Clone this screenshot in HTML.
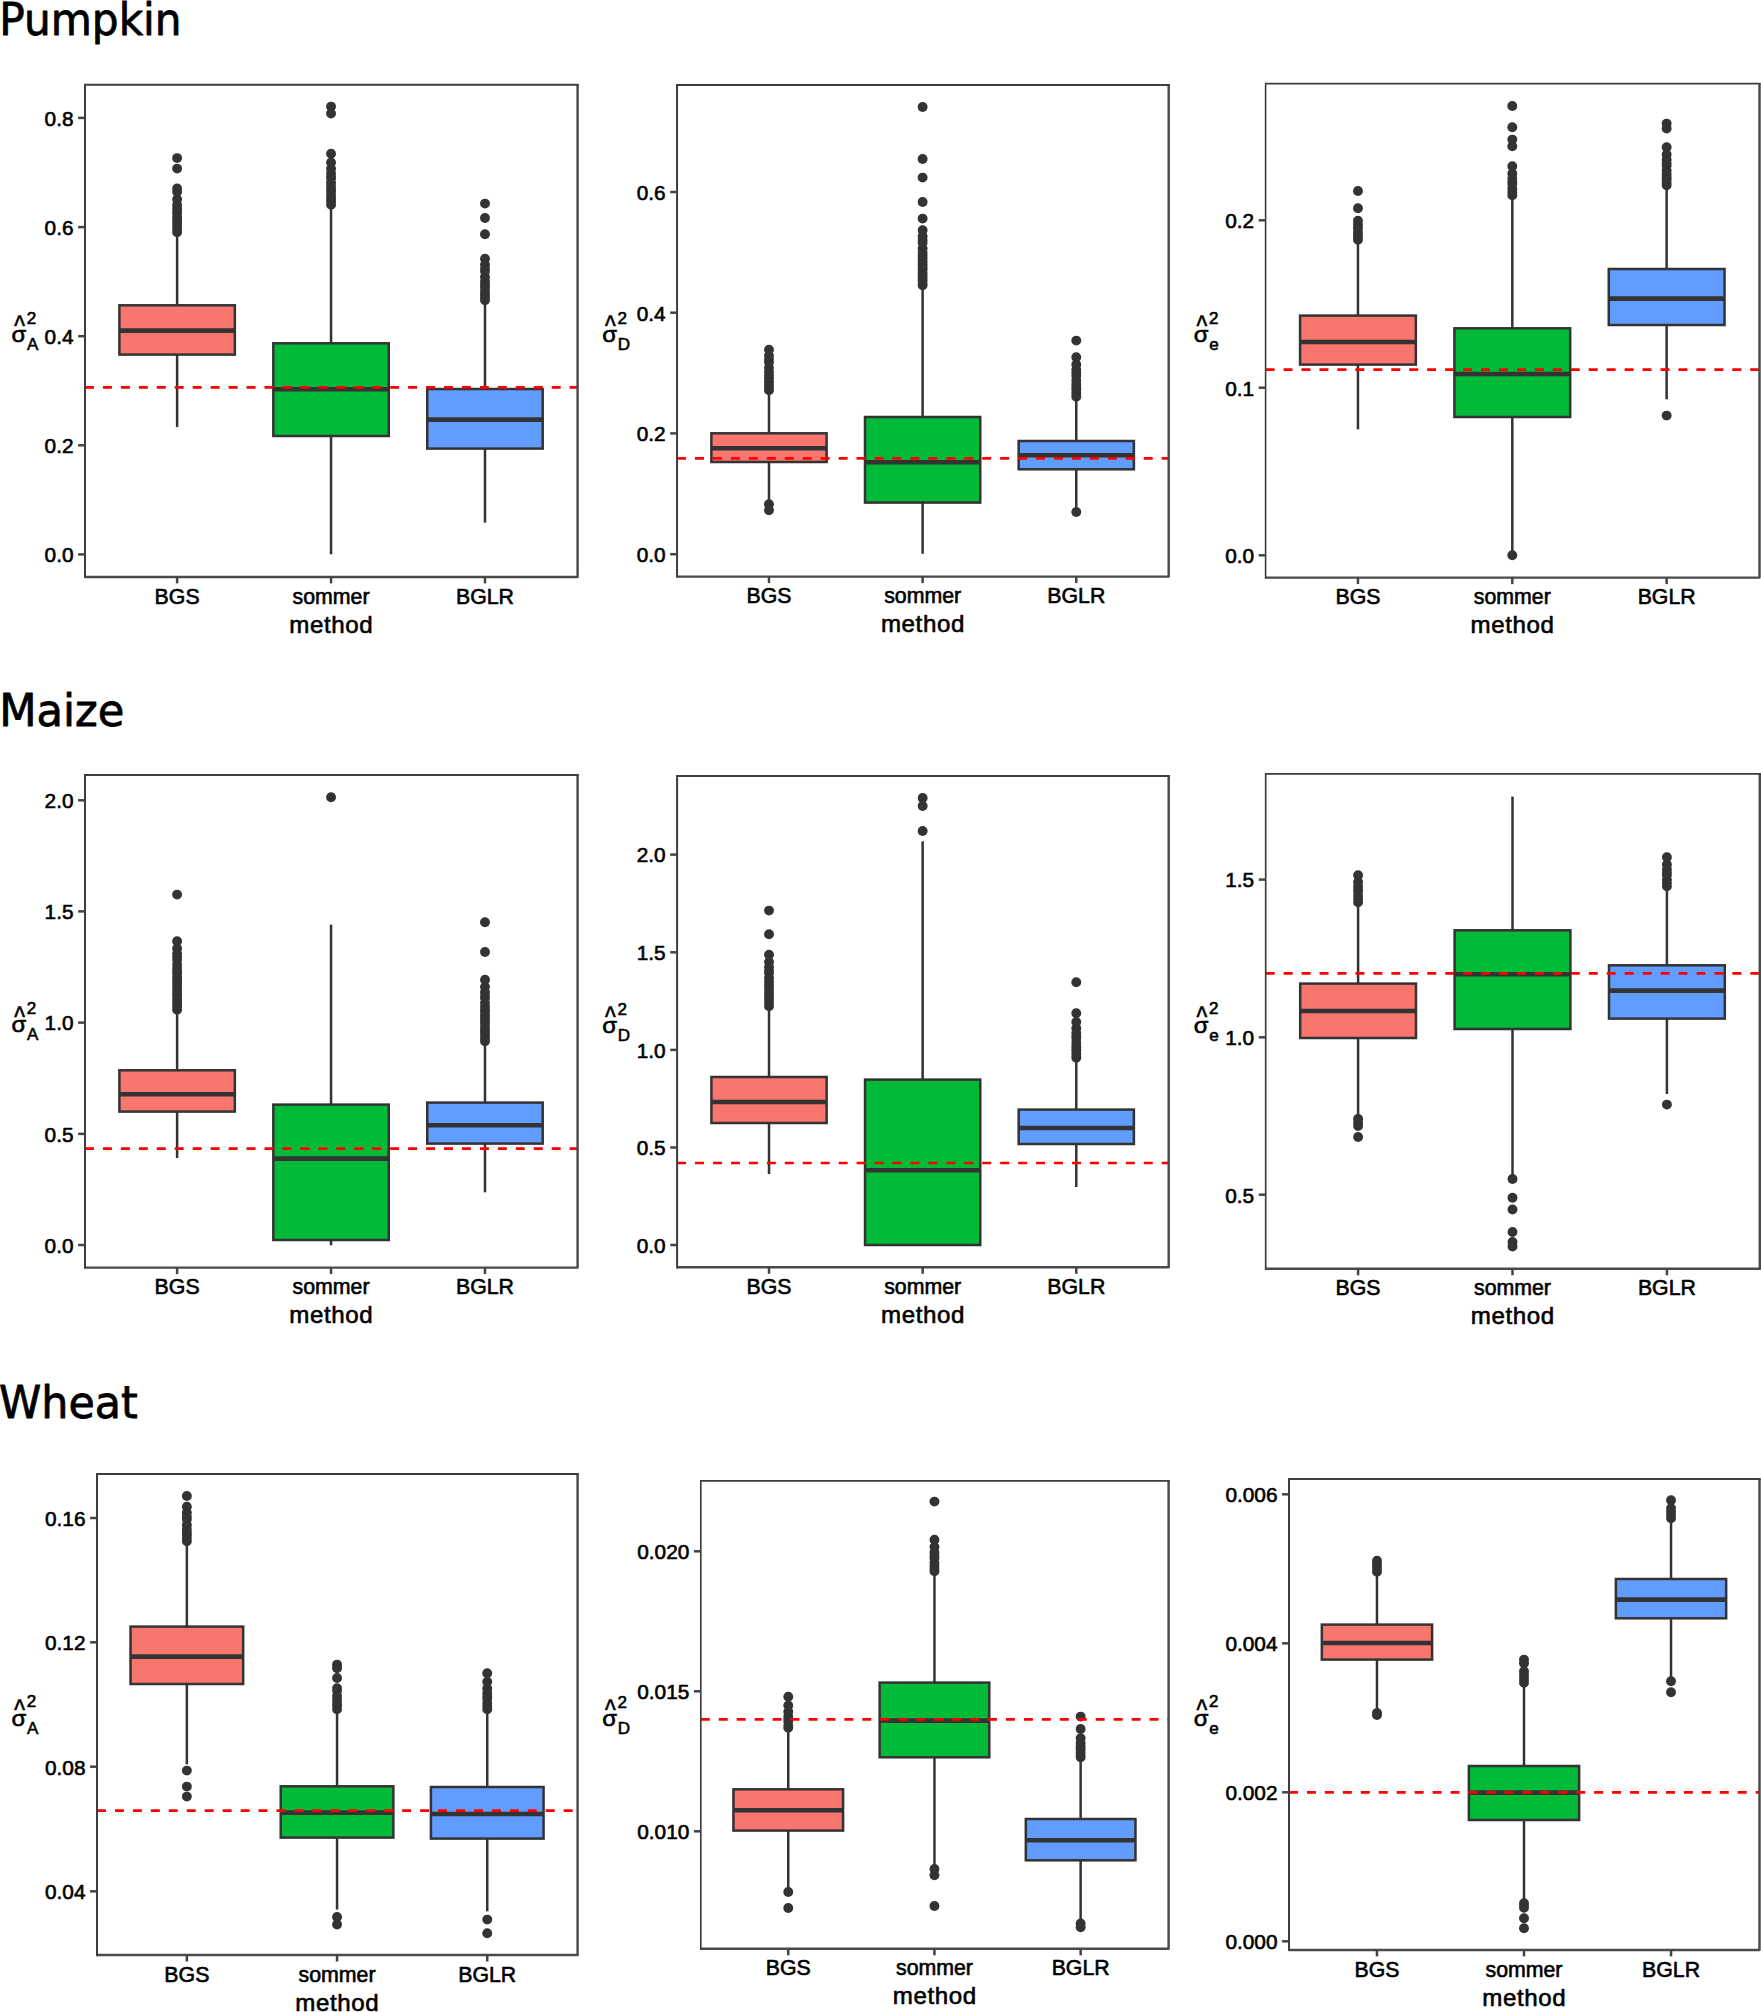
<!DOCTYPE html>
<html lang="en">
<head>
<meta charset="utf-8">
<title>Variance component estimates: Pumpkin, Maize, Wheat</title>
<style>
html,body{margin:0;padding:0;background:#fff;}
body{width:1761px;height:2012px;overflow:hidden;}
svg{display:block;}
text{white-space:pre;}
</style>
</head>
<body>
<svg width="1761" height="2012" viewBox="0 0 1761 2012" font-family="'Liberation Sans', Arial, Helvetica, sans-serif" fill="#000">
<style>text{stroke:#000;stroke-width:0.6px;stroke-linejoin:round}</style>
<rect width="1761" height="2012" fill="#fff"/>
<g>
<circle cx="177.11" cy="158.1" r="4.95" fill="#333333"/>
<circle cx="177.11" cy="168.6" r="4.95" fill="#333333"/>
<path d="M177.11 188.45h.01 M177.11 191.75h.01 M177.11 199.32h.01 M177.11 204.88h.01 M177.11 208.83h.01 M177.11 211.5h.01 M177.11 213.14h.01 M177.11 216.91h.01 M177.11 219.69h.01 M177.11 221.89h.01 M177.11 223.59h.01 M177.11 224.8h.01 M177.11 227.99h.01 M177.11 230.69h.01 M177.11 232.35h.01" fill="none" stroke="#333333" stroke-width="9.9" stroke-linecap="round"/>
<line x1="177.11" x2="177.11" y1="232.3" y2="305.3" stroke="#333333" stroke-width="2.5"/>
<line x1="177.11" x2="177.11" y1="354.6" y2="427.1" stroke="#333333" stroke-width="2.5"/>
<rect x="119.39" y="305.3" width="115.45" height="49.3" fill="#F8766D" stroke="#333333" stroke-width="2.5" stroke-linejoin="miter"/>
<line x1="119.39" x2="234.84" y1="330.6" y2="330.6" stroke="#333333" stroke-width="4.6"/>
<circle cx="331.05" cy="106.6" r="4.95" fill="#333333"/>
<circle cx="331.05" cy="113.6" r="4.95" fill="#333333"/>
<path d="M331.05 153.75h.01 M331.05 162.45h.01 M331.05 168.84h.01 M331.05 173.39h.01 M331.05 176.45h.01 M331.05 178.34h.01 M331.05 182.67h.01 M331.05 185.86h.01 M331.05 188.13h.01 M331.05 189.83h.01 M331.05 191.04h.01 M331.05 194.23h.01 M331.05 196.93h.01 M331.05 199.13h.01 M331.05 200.83h.01 M331.05 202.04h.01 M331.05 204.85h.01" fill="none" stroke="#333333" stroke-width="9.9" stroke-linecap="round"/>
<line x1="331.05" x2="331.05" y1="207.3" y2="343.3" stroke="#333333" stroke-width="2.5"/>
<line x1="331.05" x2="331.05" y1="436" y2="554.3" stroke="#333333" stroke-width="2.5"/>
<rect x="273.32" y="343.3" width="115.45" height="92.7" fill="#00BA38" stroke="#333333" stroke-width="2.5" stroke-linejoin="miter"/>
<line x1="273.32" x2="388.78" y1="389.3" y2="389.3" stroke="#333333" stroke-width="4.6"/>
<circle cx="484.99" cy="203.6" r="4.95" fill="#333333"/>
<circle cx="484.99" cy="218" r="4.95" fill="#333333"/>
<circle cx="484.99" cy="234.3" r="4.95" fill="#333333"/>
<path d="M484.99 258.75h.01 M484.99 264.75h.01 M484.99 268.8h.01 M484.99 271.29h.01 M484.99 277.02h.01 M484.99 281.23h.01 M484.99 284.22h.01 M484.99 286.24h.01 M484.99 287.48h.01 M484.99 290.67h.01 M484.99 293.37h.01 M484.99 295.57h.01 M484.99 297.27h.01 M484.99 298.48h.01 M484.99 300.35h.01" fill="none" stroke="#333333" stroke-width="9.9" stroke-linecap="round"/>
<line x1="484.99" x2="484.99" y1="300.3" y2="389" stroke="#333333" stroke-width="2.5"/>
<line x1="484.99" x2="484.99" y1="448.6" y2="522.6" stroke="#333333" stroke-width="2.5"/>
<rect x="427.26" y="389" width="115.45" height="59.6" fill="#619CFF" stroke="#333333" stroke-width="2.5" stroke-linejoin="miter"/>
<line x1="427.26" x2="542.71" y1="419.6" y2="419.6" stroke="#333333" stroke-width="4.6"/>
<line x1="85" x2="577.6" y1="387.3" y2="387.3" stroke="#FF0000" stroke-width="2.7" stroke-dasharray="8.975 8.975"/>
<path d="M577.6 84.8V576.9H85" fill="none" stroke="#4a4a4a" stroke-width="2.45" stroke-linejoin="round"/>
<path d="M85 578.1V84.8H578.8" fill="none" stroke="#3d3d3d" stroke-width="2.0" stroke-linejoin="miter"/>
<line x1="78.1" x2="85" y1="117.9" y2="117.9" stroke="#444444" stroke-width="2.5"/>
<text x="73.5" y="125.7" text-anchor="end" font-size="20.8">0.8</text>
<line x1="78.1" x2="85" y1="227.1" y2="227.1" stroke="#444444" stroke-width="2.5"/>
<text x="73.5" y="234.9" text-anchor="end" font-size="20.8">0.6</text>
<line x1="78.1" x2="85" y1="336.2" y2="336.2" stroke="#444444" stroke-width="2.5"/>
<text x="73.5" y="344" text-anchor="end" font-size="20.8">0.4</text>
<line x1="78.1" x2="85" y1="445.3" y2="445.3" stroke="#444444" stroke-width="2.5"/>
<text x="73.5" y="453.1" text-anchor="end" font-size="20.8">0.2</text>
<line x1="78.1" x2="85" y1="554.4" y2="554.4" stroke="#444444" stroke-width="2.5"/>
<text x="73.5" y="562.2" text-anchor="end" font-size="20.8">0.0</text>
<line x1="177.11" x2="177.11" y1="576.9" y2="583.4" stroke="#444444" stroke-width="2.5"/>
<text x="177.11" y="603.5" text-anchor="middle" font-size="21.3">BGS</text>
<line x1="331.05" x2="331.05" y1="576.9" y2="583.4" stroke="#444444" stroke-width="2.5"/>
<text x="331.05" y="603.5" text-anchor="middle" font-size="21.3">sommer</text>
<line x1="484.99" x2="484.99" y1="576.9" y2="583.4" stroke="#444444" stroke-width="2.5"/>
<text x="484.99" y="603.5" text-anchor="middle" font-size="21.3">BGLR</text>
<text x="331.05" y="632.5" text-anchor="middle" font-size="24.1" textLength="83.4" lengthAdjust="spacing">method</text>
<text x="11.45" y="342.05" font-size="21.8" textLength="14.7" lengthAdjust="spacingAndGlyphs">σ</text>
<text x="14.25" y="336.15" font-size="28.8" textLength="10.7" lengthAdjust="spacingAndGlyphs">^</text>
<text x="26.75" y="323.85" font-size="17.0">2</text>
<text x="27.05" y="350.05" font-size="17.0">A</text>
</g>
<g>
<circle cx="768.98" cy="504.3" r="4.95" fill="#333333"/>
<circle cx="768.98" cy="510.3" r="4.95" fill="#333333"/>
<path d="M768.98 349.75h.01 M768.98 355.75h.01 M768.98 359.8h.01 M768.98 362.29h.01 M768.98 368.02h.01 M768.98 372.23h.01 M768.98 375.22h.01 M768.98 377.24h.01 M768.98 378.48h.01 M768.98 381.67h.01 M768.98 384.37h.01 M768.98 386.57h.01 M768.98 388.27h.01 M768.98 389.48h.01 M768.98 390.35h.01" fill="none" stroke="#333333" stroke-width="9.9" stroke-linecap="round"/>
<line x1="768.98" x2="768.98" y1="390.3" y2="433.3" stroke="#333333" stroke-width="2.5"/>
<line x1="768.98" x2="768.98" y1="462" y2="503.3" stroke="#333333" stroke-width="2.5"/>
<rect x="711.37" y="433.3" width="115.23" height="28.7" fill="#F8766D" stroke="#333333" stroke-width="2.5" stroke-linejoin="miter"/>
<line x1="711.37" x2="826.6" y1="448.3" y2="448.3" stroke="#333333" stroke-width="4.6"/>
<circle cx="922.62" cy="107" r="4.95" fill="#333333"/>
<circle cx="922.62" cy="159" r="4.95" fill="#333333"/>
<circle cx="922.62" cy="177.6" r="4.95" fill="#333333"/>
<circle cx="922.62" cy="202" r="4.95" fill="#333333"/>
<circle cx="922.62" cy="218.6" r="4.95" fill="#333333"/>
<path d="M922.62 230.25h.01 M922.62 236.25h.01 M922.62 240.3h.01 M922.62 242.79h.01 M922.62 248.52h.01 M922.62 252.73h.01 M922.62 255.72h.01 M922.62 257.74h.01 M922.62 258.98h.01 M922.62 262.17h.01 M922.62 264.87h.01 M922.62 267.07h.01 M922.62 268.77h.01 M922.62 269.98h.01 M922.62 273.17h.01 M922.62 275.87h.01 M922.62 278.07h.01 M922.62 279.77h.01 M922.62 280.98h.01 M922.62 284.17h.01 M922.62 285.35h.01" fill="none" stroke="#333333" stroke-width="9.9" stroke-linecap="round"/>
<line x1="922.62" x2="922.62" y1="285.3" y2="417" stroke="#333333" stroke-width="2.5"/>
<line x1="922.62" x2="922.62" y1="502.6" y2="553.8" stroke="#333333" stroke-width="2.5"/>
<rect x="865.01" y="417" width="115.23" height="85.6" fill="#00BA38" stroke="#333333" stroke-width="2.5" stroke-linejoin="miter"/>
<line x1="865.01" x2="980.24" y1="462.3" y2="462.3" stroke="#333333" stroke-width="4.6"/>
<circle cx="1076.27" cy="340.6" r="4.95" fill="#333333"/>
<circle cx="1076.27" cy="512" r="4.95" fill="#333333"/>
<path d="M1076.27 357.25h.01 M1076.27 364.6h.01 M1076.27 369.82h.01 M1076.27 373.34h.01 M1076.27 375.51h.01 M1076.27 380.5h.01 M1076.27 384.16h.01 M1076.27 386.76h.01 M1076.27 388.52h.01 M1076.27 389.73h.01 M1076.27 392.92h.01 M1076.27 395.61h.01 M1076.27 396.85h.01" fill="none" stroke="#333333" stroke-width="9.9" stroke-linecap="round"/>
<line x1="1076.27" x2="1076.27" y1="398.3" y2="441" stroke="#333333" stroke-width="2.5"/>
<line x1="1076.27" x2="1076.27" y1="469.3" y2="507.3" stroke="#333333" stroke-width="2.5"/>
<rect x="1018.65" y="441" width="115.23" height="28.3" fill="#619CFF" stroke="#333333" stroke-width="2.5" stroke-linejoin="miter"/>
<line x1="1018.65" x2="1133.88" y1="455.3" y2="455.3" stroke="#333333" stroke-width="4.6"/>
<line x1="677.05" x2="1168.7" y1="458.3" y2="458.3" stroke="#FF0000" stroke-width="2.7" stroke-dasharray="8.975 8.975"/>
<path d="M1168.7 84.9V576.6H677.05" fill="none" stroke="#4a4a4a" stroke-width="2.45" stroke-linejoin="round"/>
<path d="M677.05 577.8V84.9H1169.9" fill="none" stroke="#3d3d3d" stroke-width="2.0" stroke-linejoin="miter"/>
<line x1="670.15" x2="677.05" y1="192" y2="192" stroke="#444444" stroke-width="2.5"/>
<text x="665.55" y="199.8" text-anchor="end" font-size="20.8">0.6</text>
<line x1="670.15" x2="677.05" y1="312.7" y2="312.7" stroke="#444444" stroke-width="2.5"/>
<text x="665.55" y="320.5" text-anchor="end" font-size="20.8">0.4</text>
<line x1="670.15" x2="677.05" y1="433.4" y2="433.4" stroke="#444444" stroke-width="2.5"/>
<text x="665.55" y="441.2" text-anchor="end" font-size="20.8">0.2</text>
<line x1="670.15" x2="677.05" y1="554.2" y2="554.2" stroke="#444444" stroke-width="2.5"/>
<text x="665.55" y="562" text-anchor="end" font-size="20.8">0.0</text>
<line x1="768.98" x2="768.98" y1="576.6" y2="583.1" stroke="#444444" stroke-width="2.5"/>
<text x="768.98" y="603.2" text-anchor="middle" font-size="21.3">BGS</text>
<line x1="922.62" x2="922.62" y1="576.6" y2="583.1" stroke="#444444" stroke-width="2.5"/>
<text x="922.62" y="603.2" text-anchor="middle" font-size="21.3">sommer</text>
<line x1="1076.27" x2="1076.27" y1="576.6" y2="583.1" stroke="#444444" stroke-width="2.5"/>
<text x="1076.27" y="603.2" text-anchor="middle" font-size="21.3">BGLR</text>
<text x="922.62" y="632.2" text-anchor="middle" font-size="24.1" textLength="83.4" lengthAdjust="spacing">method</text>
<text x="602.2" y="341.95" font-size="21.8" textLength="14.7" lengthAdjust="spacingAndGlyphs">σ</text>
<text x="605" y="336.05" font-size="28.8" textLength="10.7" lengthAdjust="spacingAndGlyphs">^</text>
<text x="617.5" y="323.75" font-size="17.0">2</text>
<text x="617.8" y="349.95" font-size="17.0">D</text>
</g>
<g>
<circle cx="1357.96" cy="191" r="4.95" fill="#333333"/>
<circle cx="1357.96" cy="208.3" r="4.95" fill="#333333"/>
<path d="M1357.96 220.75h.01 M1357.96 224.57h.01 M1357.96 227.15h.01 M1357.96 228.74h.01 M1357.96 232.38h.01 M1357.96 235.08h.01 M1357.96 237.28h.01 M1357.96 238.98h.01 M1357.96 239.85h.01" fill="none" stroke="#333333" stroke-width="9.9" stroke-linecap="round"/>
<line x1="1357.96" x2="1357.96" y1="240.3" y2="315.6" stroke="#333333" stroke-width="2.5"/>
<line x1="1357.96" x2="1357.96" y1="364.6" y2="429.3" stroke="#333333" stroke-width="2.5"/>
<rect x="1300.08" y="315.6" width="115.76" height="49" fill="#F8766D" stroke="#333333" stroke-width="2.5" stroke-linejoin="miter"/>
<line x1="1300.08" x2="1415.84" y1="342" y2="342" stroke="#333333" stroke-width="4.6"/>
<circle cx="1512.3" cy="106" r="4.95" fill="#333333"/>
<circle cx="1512.3" cy="127.3" r="4.95" fill="#333333"/>
<circle cx="1512.3" cy="139.6" r="4.95" fill="#333333"/>
<circle cx="1512.3" cy="146.3" r="4.95" fill="#333333"/>
<circle cx="1512.3" cy="555.3" r="4.95" fill="#333333"/>
<path d="M1512.3 166.25h.01 M1512.3 173.38h.01 M1512.3 178.44h.01 M1512.3 181.86h.01 M1512.3 183.96h.01 M1512.3 188.8h.01 M1512.3 192.35h.01 M1512.3 195.35h.01" fill="none" stroke="#333333" stroke-width="9.9" stroke-linecap="round"/>
<line x1="1512.3" x2="1512.3" y1="196.3" y2="328.3" stroke="#333333" stroke-width="2.5"/>
<line x1="1512.3" x2="1512.3" y1="417" y2="553.3" stroke="#333333" stroke-width="2.5"/>
<rect x="1454.42" y="328.3" width="115.76" height="88.7" fill="#00BA38" stroke="#333333" stroke-width="2.5" stroke-linejoin="miter"/>
<line x1="1454.42" x2="1570.18" y1="374" y2="374" stroke="#333333" stroke-width="4.6"/>
<circle cx="1666.64" cy="123.6" r="4.95" fill="#333333"/>
<circle cx="1666.64" cy="128.6" r="4.95" fill="#333333"/>
<circle cx="1666.64" cy="415.6" r="4.95" fill="#333333"/>
<path d="M1666.64 147.25h.01 M1666.64 154.6h.01 M1666.64 159.82h.01 M1666.64 163.34h.01 M1666.64 165.51h.01 M1666.64 170.5h.01 M1666.64 174.16h.01 M1666.64 176.76h.01 M1666.64 178.52h.01 M1666.64 179.73h.01 M1666.64 182.92h.01 M1666.64 185.35h.01" fill="none" stroke="#333333" stroke-width="9.9" stroke-linecap="round"/>
<line x1="1666.64" x2="1666.64" y1="186.3" y2="269" stroke="#333333" stroke-width="2.5"/>
<line x1="1666.64" x2="1666.64" y1="325" y2="399.3" stroke="#333333" stroke-width="2.5"/>
<rect x="1608.76" y="269" width="115.76" height="56" fill="#619CFF" stroke="#333333" stroke-width="2.5" stroke-linejoin="miter"/>
<line x1="1608.76" x2="1724.52" y1="298.6" y2="298.6" stroke="#333333" stroke-width="4.6"/>
<line x1="1265.6" x2="1759.5" y1="369.6" y2="369.6" stroke="#FF0000" stroke-width="2.7" stroke-dasharray="8.975 8.975"/>
<path d="M1759.5 83.6V577.6H1265.6" fill="none" stroke="#4a4a4a" stroke-width="2.45" stroke-linejoin="round"/>
<path d="M1265.6 578.8V83.6H1760.7" fill="none" stroke="#3d3d3d" stroke-width="1.6" stroke-linejoin="miter"/>
<line x1="1258.7" x2="1265.6" y1="220.3" y2="220.3" stroke="#444444" stroke-width="2.5"/>
<text x="1254.1" y="228.1" text-anchor="end" font-size="20.8">0.2</text>
<line x1="1258.7" x2="1265.6" y1="387.7" y2="387.7" stroke="#444444" stroke-width="2.5"/>
<text x="1254.1" y="395.5" text-anchor="end" font-size="20.8">0.1</text>
<line x1="1258.7" x2="1265.6" y1="555.3" y2="555.3" stroke="#444444" stroke-width="2.5"/>
<text x="1254.1" y="563.1" text-anchor="end" font-size="20.8">0.0</text>
<line x1="1357.96" x2="1357.96" y1="577.6" y2="584.1" stroke="#444444" stroke-width="2.5"/>
<text x="1357.96" y="604.2" text-anchor="middle" font-size="21.3">BGS</text>
<line x1="1512.3" x2="1512.3" y1="577.6" y2="584.1" stroke="#444444" stroke-width="2.5"/>
<text x="1512.3" y="604.2" text-anchor="middle" font-size="21.3">sommer</text>
<line x1="1666.64" x2="1666.64" y1="577.6" y2="584.1" stroke="#444444" stroke-width="2.5"/>
<text x="1666.64" y="604.2" text-anchor="middle" font-size="21.3">BGLR</text>
<text x="1512.3" y="633.2" text-anchor="middle" font-size="24.1" textLength="83.4" lengthAdjust="spacing">method</text>
<text x="1193.7" y="341.8" font-size="21.8" textLength="14.7" lengthAdjust="spacingAndGlyphs">σ</text>
<text x="1196.5" y="335.9" font-size="28.8" textLength="10.7" lengthAdjust="spacingAndGlyphs">^</text>
<text x="1209" y="323.6" font-size="17.0">2</text>
<text x="1209.3" y="349.8" font-size="17.0">e</text>
</g>
<g>
<circle cx="177.11" cy="894.6" r="4.95" fill="#333333"/>
<path d="M177.11 941.25h.01 M177.11 948.6h.01 M177.11 953.82h.01 M177.11 957.34h.01 M177.11 959.51h.01 M177.11 964.5h.01 M177.11 968.16h.01 M177.11 970.76h.01 M177.11 972.52h.01 M177.11 973.73h.01 M177.11 976.92h.01 M177.11 979.61h.01 M177.11 981.81h.01 M177.11 983.52h.01 M177.11 984.73h.01 M177.11 987.92h.01 M177.11 990.61h.01 M177.11 992.81h.01 M177.11 994.52h.01 M177.11 995.73h.01 M177.11 998.92h.01 M177.11 1001.61h.01 M177.11 1003.81h.01 M177.11 1005.52h.01 M177.11 1006.73h.01 M177.11 1009.85h.01" fill="none" stroke="#333333" stroke-width="9.9" stroke-linecap="round"/>
<line x1="177.11" x2="177.11" y1="1010.3" y2="1070.3" stroke="#333333" stroke-width="2.5"/>
<line x1="177.11" x2="177.11" y1="1111.6" y2="1158" stroke="#333333" stroke-width="2.5"/>
<rect x="119.39" y="1070.3" width="115.45" height="41.3" fill="#F8766D" stroke="#333333" stroke-width="2.5" stroke-linejoin="miter"/>
<line x1="119.39" x2="234.84" y1="1094.3" y2="1094.3" stroke="#333333" stroke-width="4.6"/>
<circle cx="331.05" cy="797.3" r="4.95" fill="#333333"/>
<line x1="331.05" x2="331.05" y1="924.6" y2="1104.6" stroke="#333333" stroke-width="2.5"/>
<line x1="331.05" x2="331.05" y1="1240" y2="1245.3" stroke="#333333" stroke-width="2.5"/>
<rect x="273.32" y="1104.6" width="115.45" height="135.4" fill="#00BA38" stroke="#333333" stroke-width="2.5" stroke-linejoin="miter"/>
<line x1="273.32" x2="388.78" y1="1158.6" y2="1158.6" stroke="#333333" stroke-width="4.6"/>
<circle cx="484.99" cy="922.3" r="4.95" fill="#333333"/>
<circle cx="484.99" cy="952" r="4.95" fill="#333333"/>
<path d="M484.99 979.75h.01 M484.99 987.1h.01 M484.99 992.32h.01 M484.99 995.84h.01 M484.99 998.01h.01 M484.99 1003h.01 M484.99 1006.66h.01 M484.99 1009.26h.01 M484.99 1011.02h.01 M484.99 1012.23h.01 M484.99 1015.42h.01 M484.99 1018.11h.01 M484.99 1020.31h.01 M484.99 1022.02h.01 M484.99 1023.23h.01 M484.99 1026.42h.01 M484.99 1029.11h.01 M484.99 1031.31h.01 M484.99 1033.02h.01 M484.99 1034.23h.01 M484.99 1037.42h.01 M484.99 1040.11h.01 M484.99 1041.35h.01" fill="none" stroke="#333333" stroke-width="9.9" stroke-linecap="round"/>
<line x1="484.99" x2="484.99" y1="1042.3" y2="1102.6" stroke="#333333" stroke-width="2.5"/>
<line x1="484.99" x2="484.99" y1="1143.6" y2="1192.3" stroke="#333333" stroke-width="2.5"/>
<rect x="427.26" y="1102.6" width="115.45" height="41" fill="#619CFF" stroke="#333333" stroke-width="2.5" stroke-linejoin="miter"/>
<line x1="427.26" x2="542.71" y1="1125.3" y2="1125.3" stroke="#333333" stroke-width="4.6"/>
<line x1="85" x2="577.6" y1="1148.6" y2="1148.6" stroke="#FF0000" stroke-width="2.7" stroke-dasharray="8.975 8.975"/>
<path d="M577.6 774.9V1267.6H85" fill="none" stroke="#4a4a4a" stroke-width="2.45" stroke-linejoin="round"/>
<path d="M85 1268.8V774.9H578.8" fill="none" stroke="#3d3d3d" stroke-width="2.0" stroke-linejoin="miter"/>
<line x1="78.1" x2="85" y1="800.3" y2="800.3" stroke="#444444" stroke-width="2.5"/>
<text x="73.5" y="808.1" text-anchor="end" font-size="20.8">2.0</text>
<line x1="78.1" x2="85" y1="911.4" y2="911.4" stroke="#444444" stroke-width="2.5"/>
<text x="73.5" y="919.2" text-anchor="end" font-size="20.8">1.5</text>
<line x1="78.1" x2="85" y1="1022.6" y2="1022.6" stroke="#444444" stroke-width="2.5"/>
<text x="73.5" y="1030.4" text-anchor="end" font-size="20.8">1.0</text>
<line x1="78.1" x2="85" y1="1133.9" y2="1133.9" stroke="#444444" stroke-width="2.5"/>
<text x="73.5" y="1141.7" text-anchor="end" font-size="20.8">0.5</text>
<line x1="78.1" x2="85" y1="1245" y2="1245" stroke="#444444" stroke-width="2.5"/>
<text x="73.5" y="1252.8" text-anchor="end" font-size="20.8">0.0</text>
<line x1="177.11" x2="177.11" y1="1267.6" y2="1274.1" stroke="#444444" stroke-width="2.5"/>
<text x="177.11" y="1294.2" text-anchor="middle" font-size="21.3">BGS</text>
<line x1="331.05" x2="331.05" y1="1267.6" y2="1274.1" stroke="#444444" stroke-width="2.5"/>
<text x="331.05" y="1294.2" text-anchor="middle" font-size="21.3">sommer</text>
<line x1="484.99" x2="484.99" y1="1267.6" y2="1274.1" stroke="#444444" stroke-width="2.5"/>
<text x="484.99" y="1294.2" text-anchor="middle" font-size="21.3">BGLR</text>
<text x="331.05" y="1323.2" text-anchor="middle" font-size="24.1" textLength="83.4" lengthAdjust="spacing">method</text>
<text x="11.45" y="1032.45" font-size="21.8" textLength="14.7" lengthAdjust="spacingAndGlyphs">σ</text>
<text x="14.25" y="1026.55" font-size="28.8" textLength="10.7" lengthAdjust="spacingAndGlyphs">^</text>
<text x="26.75" y="1014.25" font-size="17.0">2</text>
<text x="27.05" y="1040.45" font-size="17.0">A</text>
</g>
<g>
<circle cx="769.02" cy="910.6" r="4.95" fill="#333333"/>
<circle cx="769.02" cy="934.3" r="4.95" fill="#333333"/>
<path d="M769.02 954.75h.01 M769.02 962.1h.01 M769.02 967.32h.01 M769.02 970.84h.01 M769.02 973.01h.01 M769.02 978h.01 M769.02 981.66h.01 M769.02 984.26h.01 M769.02 986.02h.01 M769.02 987.23h.01 M769.02 990.42h.01 M769.02 993.11h.01 M769.02 995.31h.01 M769.02 997.02h.01 M769.02 998.23h.01 M769.02 1001.42h.01 M769.02 1004.11h.01 M769.02 1006.35h.01" fill="none" stroke="#333333" stroke-width="9.9" stroke-linecap="round"/>
<line x1="769.02" x2="769.02" y1="1005.3" y2="1077" stroke="#333333" stroke-width="2.5"/>
<line x1="769.02" x2="769.02" y1="1123" y2="1174" stroke="#333333" stroke-width="2.5"/>
<rect x="711.42" y="1077" width="115.22" height="46" fill="#F8766D" stroke="#333333" stroke-width="2.5" stroke-linejoin="miter"/>
<line x1="711.42" x2="826.63" y1="1102" y2="1102" stroke="#333333" stroke-width="4.6"/>
<circle cx="922.65" cy="798" r="4.95" fill="#333333"/>
<circle cx="922.65" cy="806" r="4.95" fill="#333333"/>
<circle cx="922.65" cy="831" r="4.95" fill="#333333"/>
<line x1="922.65" x2="922.65" y1="841.3" y2="1079.6" stroke="#333333" stroke-width="2.5"/>
<rect x="865.04" y="1079.6" width="115.22" height="165.4" fill="#00BA38" stroke="#333333" stroke-width="2.5" stroke-linejoin="miter"/>
<line x1="865.04" x2="980.26" y1="1170.3" y2="1170.3" stroke="#333333" stroke-width="4.6"/>
<circle cx="1076.28" cy="982.3" r="4.95" fill="#333333"/>
<path d="M1076.28 1013.25h.01 M1076.28 1021.95h.01 M1076.28 1028.34h.01 M1076.28 1032.89h.01 M1076.28 1035.95h.01 M1076.28 1037.84h.01 M1076.28 1042.17h.01 M1076.28 1045.36h.01 M1076.28 1047.63h.01 M1076.28 1049.33h.01 M1076.28 1050.54h.01 M1076.28 1053.73h.01 M1076.28 1056.43h.01 M1076.28 1057.85h.01" fill="none" stroke="#333333" stroke-width="9.9" stroke-linecap="round"/>
<line x1="1076.28" x2="1076.28" y1="1057.3" y2="1109.6" stroke="#333333" stroke-width="2.5"/>
<line x1="1076.28" x2="1076.28" y1="1144" y2="1187" stroke="#333333" stroke-width="2.5"/>
<rect x="1018.67" y="1109.6" width="115.22" height="34.4" fill="#619CFF" stroke="#333333" stroke-width="2.5" stroke-linejoin="miter"/>
<line x1="1018.67" x2="1133.88" y1="1128" y2="1128" stroke="#333333" stroke-width="4.6"/>
<line x1="677.1" x2="1168.7" y1="1163" y2="1163" stroke="#FF0000" stroke-width="2.7" stroke-dasharray="8.975 8.975"/>
<path d="M1168.7 775.9V1267.3H677.1" fill="none" stroke="#4a4a4a" stroke-width="2.45" stroke-linejoin="round"/>
<path d="M677.1 1268.5V775.9H1169.9" fill="none" stroke="#3d3d3d" stroke-width="2.0" stroke-linejoin="miter"/>
<line x1="670.2" x2="677.1" y1="854.6" y2="854.6" stroke="#444444" stroke-width="2.5"/>
<text x="665.6" y="862.4" text-anchor="end" font-size="20.8">2.0</text>
<line x1="670.2" x2="677.1" y1="952.3" y2="952.3" stroke="#444444" stroke-width="2.5"/>
<text x="665.6" y="960.1" text-anchor="end" font-size="20.8">1.5</text>
<line x1="670.2" x2="677.1" y1="1049.9" y2="1049.9" stroke="#444444" stroke-width="2.5"/>
<text x="665.6" y="1057.7" text-anchor="end" font-size="20.8">1.0</text>
<line x1="670.2" x2="677.1" y1="1147.5" y2="1147.5" stroke="#444444" stroke-width="2.5"/>
<text x="665.6" y="1155.3" text-anchor="end" font-size="20.8">0.5</text>
<line x1="670.2" x2="677.1" y1="1245" y2="1245" stroke="#444444" stroke-width="2.5"/>
<text x="665.6" y="1252.8" text-anchor="end" font-size="20.8">0.0</text>
<line x1="769.02" x2="769.02" y1="1267.3" y2="1273.8" stroke="#444444" stroke-width="2.5"/>
<text x="769.02" y="1293.9" text-anchor="middle" font-size="21.3">BGS</text>
<line x1="922.65" x2="922.65" y1="1267.3" y2="1273.8" stroke="#444444" stroke-width="2.5"/>
<text x="922.65" y="1293.9" text-anchor="middle" font-size="21.3">sommer</text>
<line x1="1076.28" x2="1076.28" y1="1267.3" y2="1273.8" stroke="#444444" stroke-width="2.5"/>
<text x="1076.28" y="1293.9" text-anchor="middle" font-size="21.3">BGLR</text>
<text x="922.65" y="1322.9" text-anchor="middle" font-size="24.1" textLength="83.4" lengthAdjust="spacing">method</text>
<text x="602.2" y="1032.8" font-size="21.8" textLength="14.7" lengthAdjust="spacingAndGlyphs">σ</text>
<text x="605" y="1026.9" font-size="28.8" textLength="10.7" lengthAdjust="spacingAndGlyphs">^</text>
<text x="617.5" y="1014.6" font-size="17.0">2</text>
<text x="617.8" y="1040.8" font-size="17.0">D</text>
</g>
<g>
<circle cx="1358.09" cy="1137" r="4.95" fill="#333333"/>
<path d="M1358.09 875.25h.01 M1358.09 881.89h.01 M1358.09 886.6h.01 M1358.09 889.78h.01 M1358.09 891.75h.01 M1358.09 896.25h.01 M1358.09 899.56h.01 M1358.09 902.35h.01" fill="none" stroke="#333333" stroke-width="9.9" stroke-linecap="round"/>
<path d="M1358.09 1125.95h.01 M1358.09 1124.24h.01 M1358.09 1123.03h.01 M1358.09 1119.84h.01 M1358.09 1118.85h.01" fill="none" stroke="#333333" stroke-width="9.9" stroke-linecap="round"/>
<line x1="1358.09" x2="1358.09" y1="902.3" y2="983.6" stroke="#333333" stroke-width="2.5"/>
<line x1="1358.09" x2="1358.09" y1="1038" y2="1116.3" stroke="#333333" stroke-width="2.5"/>
<rect x="1300.19" y="983.6" width="115.8" height="54.4" fill="#F8766D" stroke="#333333" stroke-width="2.5" stroke-linejoin="miter"/>
<line x1="1300.19" x2="1416" y1="1011" y2="1011" stroke="#333333" stroke-width="4.6"/>
<circle cx="1512.5" cy="1179" r="4.95" fill="#333333"/>
<circle cx="1512.5" cy="1197.7" r="4.95" fill="#333333"/>
<circle cx="1512.5" cy="1209.5" r="4.95" fill="#333333"/>
<circle cx="1512.5" cy="1232" r="4.95" fill="#333333"/>
<circle cx="1512.5" cy="1242" r="4.95" fill="#333333"/>
<circle cx="1512.5" cy="1246.6" r="4.95" fill="#333333"/>
<line x1="1512.5" x2="1512.5" y1="796.6" y2="930.3" stroke="#333333" stroke-width="2.5"/>
<line x1="1512.5" x2="1512.5" y1="1029" y2="1176.3" stroke="#333333" stroke-width="2.5"/>
<rect x="1454.6" y="930.3" width="115.8" height="98.7" fill="#00BA38" stroke="#333333" stroke-width="2.5" stroke-linejoin="miter"/>
<line x1="1454.6" x2="1570.4" y1="974.3" y2="974.3" stroke="#333333" stroke-width="4.6"/>
<circle cx="1666.91" cy="1104.6" r="4.95" fill="#333333"/>
<path d="M1666.91 857.25h.01 M1666.91 864.38h.01 M1666.91 869.44h.01 M1666.91 872.86h.01 M1666.91 874.96h.01 M1666.91 879.8h.01 M1666.91 883.35h.01 M1666.91 886.35h.01" fill="none" stroke="#333333" stroke-width="9.9" stroke-linecap="round"/>
<line x1="1666.91" x2="1666.91" y1="886.3" y2="965.3" stroke="#333333" stroke-width="2.5"/>
<line x1="1666.91" x2="1666.91" y1="1018.6" y2="1094" stroke="#333333" stroke-width="2.5"/>
<rect x="1609" y="965.3" width="115.8" height="53.3" fill="#619CFF" stroke="#333333" stroke-width="2.5" stroke-linejoin="miter"/>
<line x1="1609" x2="1724.81" y1="990.6" y2="990.6" stroke="#333333" stroke-width="4.6"/>
<line x1="1265.7" x2="1759.8" y1="973.3" y2="973.3" stroke="#FF0000" stroke-width="2.7" stroke-dasharray="8.975 8.975"/>
<path d="M1759.8 773.9V1268.8H1265.7" fill="none" stroke="#4a4a4a" stroke-width="2.45" stroke-linejoin="round"/>
<path d="M1265.7 1270V773.9H1761" fill="none" stroke="#3d3d3d" stroke-width="1.7" stroke-linejoin="miter"/>
<line x1="1258.8" x2="1265.7" y1="879.6" y2="879.6" stroke="#444444" stroke-width="2.5"/>
<text x="1254.2" y="887.4" text-anchor="end" font-size="20.8">1.5</text>
<line x1="1258.8" x2="1265.7" y1="1037.3" y2="1037.3" stroke="#444444" stroke-width="2.5"/>
<text x="1254.2" y="1045.1" text-anchor="end" font-size="20.8">1.0</text>
<line x1="1258.8" x2="1265.7" y1="1194.7" y2="1194.7" stroke="#444444" stroke-width="2.5"/>
<text x="1254.2" y="1202.5" text-anchor="end" font-size="20.8">0.5</text>
<line x1="1358.09" x2="1358.09" y1="1268.8" y2="1275.3" stroke="#444444" stroke-width="2.5"/>
<text x="1358.09" y="1295.4" text-anchor="middle" font-size="21.3">BGS</text>
<line x1="1512.5" x2="1512.5" y1="1268.8" y2="1275.3" stroke="#444444" stroke-width="2.5"/>
<text x="1512.5" y="1295.4" text-anchor="middle" font-size="21.3">sommer</text>
<line x1="1666.91" x2="1666.91" y1="1268.8" y2="1275.3" stroke="#444444" stroke-width="2.5"/>
<text x="1666.91" y="1295.4" text-anchor="middle" font-size="21.3">BGLR</text>
<text x="1512.5" y="1324.4" text-anchor="middle" font-size="24.1" textLength="83.4" lengthAdjust="spacing">method</text>
<text x="1193.7" y="1032.55" font-size="21.8" textLength="14.7" lengthAdjust="spacingAndGlyphs">σ</text>
<text x="1196.5" y="1026.65" font-size="28.8" textLength="10.7" lengthAdjust="spacingAndGlyphs">^</text>
<text x="1209" y="1014.35" font-size="17.0">2</text>
<text x="1209.3" y="1040.55" font-size="17.0">e</text>
</g>
<g>
<circle cx="186.86" cy="1496" r="4.95" fill="#333333"/>
<circle cx="186.86" cy="1770.6" r="4.95" fill="#333333"/>
<circle cx="186.86" cy="1786.6" r="4.95" fill="#333333"/>
<circle cx="186.86" cy="1796.6" r="4.95" fill="#333333"/>
<path d="M186.86 1506.75h.01 M186.86 1512.75h.01 M186.86 1516.8h.01 M186.86 1519.29h.01 M186.86 1525.02h.01 M186.86 1529.23h.01 M186.86 1532.22h.01 M186.86 1534.24h.01 M186.86 1535.48h.01 M186.86 1538.67h.01 M186.86 1541.35h.01" fill="none" stroke="#333333" stroke-width="9.9" stroke-linecap="round"/>
<line x1="186.86" x2="186.86" y1="1540.3" y2="1626.6" stroke="#333333" stroke-width="2.5"/>
<line x1="186.86" x2="186.86" y1="1684" y2="1764.3" stroke="#333333" stroke-width="2.5"/>
<rect x="130.54" y="1626.6" width="112.64" height="57.4" fill="#F8766D" stroke="#333333" stroke-width="2.5" stroke-linejoin="miter"/>
<line x1="130.54" x2="243.18" y1="1656.6" y2="1656.6" stroke="#333333" stroke-width="4.6"/>
<circle cx="337.05" cy="1664.6" r="4.95" fill="#333333"/>
<circle cx="337.05" cy="1668.3" r="4.95" fill="#333333"/>
<circle cx="337.05" cy="1678" r="4.95" fill="#333333"/>
<circle cx="337.05" cy="1917" r="4.95" fill="#333333"/>
<circle cx="337.05" cy="1924.6" r="4.95" fill="#333333"/>
<path d="M337.05 1688.25h.01 M337.05 1690.57h.01 M337.05 1695.89h.01 M337.05 1699.81h.01 M337.05 1702.59h.01 M337.05 1704.46h.01 M337.05 1705.67h.01 M337.05 1709.35h.01" fill="none" stroke="#333333" stroke-width="9.9" stroke-linecap="round"/>
<line x1="337.05" x2="337.05" y1="1708.3" y2="1786.3" stroke="#333333" stroke-width="2.5"/>
<line x1="337.05" x2="337.05" y1="1837.6" y2="1909.6" stroke="#333333" stroke-width="2.5"/>
<rect x="280.73" y="1786.3" width="112.64" height="51.3" fill="#00BA38" stroke="#333333" stroke-width="2.5" stroke-linejoin="miter"/>
<line x1="280.73" x2="393.37" y1="1812.6" y2="1812.6" stroke="#333333" stroke-width="4.6"/>
<circle cx="487.24" cy="1673.3" r="4.95" fill="#333333"/>
<circle cx="487.24" cy="1919.6" r="4.95" fill="#333333"/>
<circle cx="487.24" cy="1933.3" r="4.95" fill="#333333"/>
<path d="M487.24 1681.75h.01 M487.24 1688.51h.01 M487.24 1693.31h.01 M487.24 1696.55h.01 M487.24 1698.55h.01 M487.24 1703.14h.01 M487.24 1706.51h.01 M487.24 1709.35h.01" fill="none" stroke="#333333" stroke-width="9.9" stroke-linecap="round"/>
<line x1="487.24" x2="487.24" y1="1708.3" y2="1787" stroke="#333333" stroke-width="2.5"/>
<line x1="487.24" x2="487.24" y1="1838.6" y2="1911.3" stroke="#333333" stroke-width="2.5"/>
<rect x="430.92" y="1787" width="112.64" height="51.6" fill="#619CFF" stroke="#333333" stroke-width="2.5" stroke-linejoin="miter"/>
<line x1="430.92" x2="543.56" y1="1814" y2="1814" stroke="#333333" stroke-width="4.6"/>
<line x1="97" x2="577.6" y1="1810.6" y2="1810.6" stroke="#FF0000" stroke-width="2.7" stroke-dasharray="8.975 8.975"/>
<path d="M577.6 1473.9V1955H97" fill="none" stroke="#4a4a4a" stroke-width="2.45" stroke-linejoin="round"/>
<path d="M97 1956.2V1473.9H578.8" fill="none" stroke="#3d3d3d" stroke-width="2.0" stroke-linejoin="miter"/>
<line x1="90.1" x2="97" y1="1518" y2="1518" stroke="#444444" stroke-width="2.5"/>
<text x="85.5" y="1525.8" text-anchor="end" font-size="20.8">0.16</text>
<line x1="90.1" x2="97" y1="1642.3" y2="1642.3" stroke="#444444" stroke-width="2.5"/>
<text x="85.5" y="1650.1" text-anchor="end" font-size="20.8">0.12</text>
<line x1="90.1" x2="97" y1="1766.7" y2="1766.7" stroke="#444444" stroke-width="2.5"/>
<text x="85.5" y="1774.5" text-anchor="end" font-size="20.8">0.08</text>
<line x1="90.1" x2="97" y1="1891.3" y2="1891.3" stroke="#444444" stroke-width="2.5"/>
<text x="85.5" y="1899.1" text-anchor="end" font-size="20.8">0.04</text>
<line x1="186.86" x2="186.86" y1="1955" y2="1961.5" stroke="#444444" stroke-width="2.5"/>
<text x="186.86" y="1981.6" text-anchor="middle" font-size="21.3">BGS</text>
<line x1="337.05" x2="337.05" y1="1955" y2="1961.5" stroke="#444444" stroke-width="2.5"/>
<text x="337.05" y="1981.6" text-anchor="middle" font-size="21.3">sommer</text>
<line x1="487.24" x2="487.24" y1="1955" y2="1961.5" stroke="#444444" stroke-width="2.5"/>
<text x="487.24" y="1981.6" text-anchor="middle" font-size="21.3">BGLR</text>
<text x="337.05" y="2010.6" text-anchor="middle" font-size="24.1" textLength="83.4" lengthAdjust="spacing">method</text>
<text x="11.45" y="1725.65" font-size="21.8" textLength="14.7" lengthAdjust="spacingAndGlyphs">σ</text>
<text x="14.25" y="1719.75" font-size="28.8" textLength="10.7" lengthAdjust="spacingAndGlyphs">^</text>
<text x="26.75" y="1707.45" font-size="17.0">2</text>
<text x="27.05" y="1733.65" font-size="17.0">A</text>
</g>
<g>
<circle cx="788.26" cy="1892" r="4.95" fill="#333333"/>
<circle cx="788.26" cy="1908" r="4.95" fill="#333333"/>
<path d="M788.26 1696.75h.01 M788.26 1705.45h.01 M788.26 1711.84h.01 M788.26 1716.39h.01 M788.26 1719.45h.01 M788.26 1721.34h.01 M788.26 1725.67h.01 M788.26 1727.85h.01" fill="none" stroke="#333333" stroke-width="9.9" stroke-linecap="round"/>
<line x1="788.26" x2="788.26" y1="1726.3" y2="1789.3" stroke="#333333" stroke-width="2.5"/>
<line x1="788.26" x2="788.26" y1="1830.6" y2="1888" stroke="#333333" stroke-width="2.5"/>
<rect x="733.44" y="1789.3" width="109.64" height="41.3" fill="#F8766D" stroke="#333333" stroke-width="2.5" stroke-linejoin="miter"/>
<line x1="733.44" x2="843.08" y1="1810.3" y2="1810.3" stroke="#333333" stroke-width="4.6"/>
<circle cx="934.45" cy="1501.6" r="4.95" fill="#333333"/>
<circle cx="934.45" cy="1869" r="4.95" fill="#333333"/>
<circle cx="934.45" cy="1875.3" r="4.95" fill="#333333"/>
<circle cx="934.45" cy="1906" r="4.95" fill="#333333"/>
<path d="M934.45 1539.75h.01 M934.45 1547.1h.01 M934.45 1552.32h.01 M934.45 1555.84h.01 M934.45 1558.01h.01 M934.45 1563h.01 M934.45 1566.66h.01 M934.45 1569.26h.01 M934.45 1571.35h.01" fill="none" stroke="#333333" stroke-width="9.9" stroke-linecap="round"/>
<line x1="934.45" x2="934.45" y1="1570.3" y2="1682.6" stroke="#333333" stroke-width="2.5"/>
<line x1="934.45" x2="934.45" y1="1757.3" y2="1866.3" stroke="#333333" stroke-width="2.5"/>
<rect x="879.63" y="1682.6" width="109.64" height="74.7" fill="#00BA38" stroke="#333333" stroke-width="2.5" stroke-linejoin="miter"/>
<line x1="879.63" x2="989.27" y1="1720.6" y2="1720.6" stroke="#333333" stroke-width="4.6"/>
<circle cx="1080.64" cy="1716.6" r="4.95" fill="#333333"/>
<circle cx="1080.64" cy="1729" r="4.95" fill="#333333"/>
<circle cx="1080.64" cy="1923.5" r="4.95" fill="#333333"/>
<circle cx="1080.64" cy="1927.3" r="4.95" fill="#333333"/>
<path d="M1080.64 1738.25h.01 M1080.64 1742.93h.01 M1080.64 1746.25h.01 M1080.64 1748.49h.01 M1080.64 1749.88h.01 M1080.64 1753.07h.01 M1080.64 1755.76h.01 M1080.64 1757.35h.01" fill="none" stroke="#333333" stroke-width="9.9" stroke-linecap="round"/>
<line x1="1080.64" x2="1080.64" y1="1755.3" y2="1819" stroke="#333333" stroke-width="2.5"/>
<line x1="1080.64" x2="1080.64" y1="1860.3" y2="1921.3" stroke="#333333" stroke-width="2.5"/>
<rect x="1025.82" y="1819" width="109.64" height="41.3" fill="#619CFF" stroke="#333333" stroke-width="2.5" stroke-linejoin="miter"/>
<line x1="1025.82" x2="1135.46" y1="1840.3" y2="1840.3" stroke="#333333" stroke-width="4.6"/>
<line x1="700.8" x2="1168.6" y1="1719.3" y2="1719.3" stroke="#FF0000" stroke-width="2.7" stroke-dasharray="8.975 8.975"/>
<path d="M1168.6 1480.8V1948.8H700.8" fill="none" stroke="#4a4a4a" stroke-width="2.45" stroke-linejoin="round"/>
<path d="M700.8 1950V1480.8H1169.8" fill="none" stroke="#3d3d3d" stroke-width="1.65" stroke-linejoin="miter"/>
<line x1="693.9" x2="700.8" y1="1551.3" y2="1551.3" stroke="#444444" stroke-width="2.5"/>
<text x="689.3" y="1559.1" text-anchor="end" font-size="20.8">0.020</text>
<line x1="693.9" x2="700.8" y1="1691.3" y2="1691.3" stroke="#444444" stroke-width="2.5"/>
<text x="689.3" y="1699.1" text-anchor="end" font-size="20.8">0.015</text>
<line x1="693.9" x2="700.8" y1="1831.3" y2="1831.3" stroke="#444444" stroke-width="2.5"/>
<text x="689.3" y="1839.1" text-anchor="end" font-size="20.8">0.010</text>
<line x1="788.26" x2="788.26" y1="1948.8" y2="1955.3" stroke="#444444" stroke-width="2.5"/>
<text x="788.26" y="1975.4" text-anchor="middle" font-size="21.3">BGS</text>
<line x1="934.45" x2="934.45" y1="1948.8" y2="1955.3" stroke="#444444" stroke-width="2.5"/>
<text x="934.45" y="1975.4" text-anchor="middle" font-size="21.3">sommer</text>
<line x1="1080.64" x2="1080.64" y1="1948.8" y2="1955.3" stroke="#444444" stroke-width="2.5"/>
<text x="1080.64" y="1975.4" text-anchor="middle" font-size="21.3">BGLR</text>
<text x="934.45" y="2004.4" text-anchor="middle" font-size="24.1" textLength="83.4" lengthAdjust="spacing">method</text>
<text x="602.2" y="1726" font-size="21.8" textLength="14.7" lengthAdjust="spacingAndGlyphs">σ</text>
<text x="605" y="1720.1" font-size="28.8" textLength="10.7" lengthAdjust="spacingAndGlyphs">^</text>
<text x="617.5" y="1707.8" font-size="17.0">2</text>
<text x="617.8" y="1734" font-size="17.0">D</text>
</g>
<g>
<circle cx="1376.97" cy="1713" r="4.95" fill="#333333"/>
<circle cx="1376.97" cy="1715" r="4.95" fill="#333333"/>
<path d="M1376.97 1560.75h.01 M1376.97 1562.47h.01 M1376.97 1563.68h.01 M1376.97 1566.87h.01 M1376.97 1569.57h.01 M1376.97 1571.85h.01" fill="none" stroke="#333333" stroke-width="9.9" stroke-linecap="round"/>
<line x1="1376.97" x2="1376.97" y1="1572.3" y2="1624.6" stroke="#333333" stroke-width="2.5"/>
<line x1="1376.97" x2="1376.97" y1="1659.6" y2="1711.3" stroke="#333333" stroke-width="2.5"/>
<rect x="1321.83" y="1624.6" width="110.27" height="35" fill="#F8766D" stroke="#333333" stroke-width="2.5" stroke-linejoin="miter"/>
<line x1="1321.83" x2="1432.11" y1="1643" y2="1643" stroke="#333333" stroke-width="4.6"/>
<circle cx="1524" cy="1659.6" r="4.95" fill="#333333"/>
<circle cx="1524" cy="1663.3" r="4.95" fill="#333333"/>
<circle cx="1524" cy="1918.3" r="4.95" fill="#333333"/>
<circle cx="1524" cy="1928.3" r="4.95" fill="#333333"/>
<path d="M1524 1671.25h.01 M1524 1672.53h.01 M1524 1675.72h.01 M1524 1678.41h.01 M1524 1680.61h.01 M1524 1682.85h.01" fill="none" stroke="#333333" stroke-width="9.9" stroke-linecap="round"/>
<path d="M1524 1907.85h.01 M1524 1905.65h.01 M1524 1903.94h.01 M1524 1903.25h.01" fill="none" stroke="#333333" stroke-width="9.9" stroke-linecap="round"/>
<line x1="1524" x2="1524" y1="1682.3" y2="1766" stroke="#333333" stroke-width="2.5"/>
<line x1="1524" x2="1524" y1="1820" y2="1903" stroke="#333333" stroke-width="2.5"/>
<rect x="1468.86" y="1766" width="110.27" height="54" fill="#00BA38" stroke="#333333" stroke-width="2.5" stroke-linejoin="miter"/>
<line x1="1468.86" x2="1579.14" y1="1792.6" y2="1792.6" stroke="#333333" stroke-width="4.6"/>
<circle cx="1671.03" cy="1500.3" r="4.95" fill="#333333"/>
<circle cx="1671.03" cy="1681.3" r="4.95" fill="#333333"/>
<circle cx="1671.03" cy="1692.3" r="4.95" fill="#333333"/>
<path d="M1671.03 1508.25h.01 M1671.03 1511.44h.01 M1671.03 1514.13h.01 M1671.03 1516.34h.01 M1671.03 1518.35h.01" fill="none" stroke="#333333" stroke-width="9.9" stroke-linecap="round"/>
<line x1="1671.03" x2="1671.03" y1="1518.3" y2="1579" stroke="#333333" stroke-width="2.5"/>
<line x1="1671.03" x2="1671.03" y1="1618.3" y2="1678.3" stroke="#333333" stroke-width="2.5"/>
<rect x="1615.89" y="1579" width="110.27" height="39.3" fill="#619CFF" stroke="#333333" stroke-width="2.5" stroke-linejoin="miter"/>
<line x1="1615.89" x2="1726.17" y1="1599.6" y2="1599.6" stroke="#333333" stroke-width="4.6"/>
<line x1="1289" x2="1759.5" y1="1792.3" y2="1792.3" stroke="#FF0000" stroke-width="2.7" stroke-dasharray="8.975 8.975"/>
<path d="M1759.5 1478.9V1949.9H1289" fill="none" stroke="#4a4a4a" stroke-width="2.45" stroke-linejoin="round"/>
<path d="M1289 1951.1V1478.9H1760.7" fill="none" stroke="#3d3d3d" stroke-width="2.0" stroke-linejoin="miter"/>
<line x1="1282.1" x2="1289" y1="1494.3" y2="1494.3" stroke="#444444" stroke-width="2.5"/>
<text x="1277.5" y="1502.1" text-anchor="end" font-size="20.8">0.006</text>
<line x1="1282.1" x2="1289" y1="1643.3" y2="1643.3" stroke="#444444" stroke-width="2.5"/>
<text x="1277.5" y="1651.1" text-anchor="end" font-size="20.8">0.004</text>
<line x1="1282.1" x2="1289" y1="1792.3" y2="1792.3" stroke="#444444" stroke-width="2.5"/>
<text x="1277.5" y="1800.1" text-anchor="end" font-size="20.8">0.002</text>
<line x1="1282.1" x2="1289" y1="1941.3" y2="1941.3" stroke="#444444" stroke-width="2.5"/>
<text x="1277.5" y="1949.1" text-anchor="end" font-size="20.8">0.000</text>
<line x1="1376.97" x2="1376.97" y1="1949.9" y2="1956.4" stroke="#444444" stroke-width="2.5"/>
<text x="1376.97" y="1976.5" text-anchor="middle" font-size="21.3">BGS</text>
<line x1="1524" x2="1524" y1="1949.9" y2="1956.4" stroke="#444444" stroke-width="2.5"/>
<text x="1524" y="1976.5" text-anchor="middle" font-size="21.3">sommer</text>
<line x1="1671.03" x2="1671.03" y1="1949.9" y2="1956.4" stroke="#444444" stroke-width="2.5"/>
<text x="1671.03" y="1976.5" text-anchor="middle" font-size="21.3">BGLR</text>
<text x="1524" y="2005.5" text-anchor="middle" font-size="24.1" textLength="83.4" lengthAdjust="spacing">method</text>
<text x="1193.7" y="1725.6" font-size="21.8" textLength="14.7" lengthAdjust="spacingAndGlyphs">σ</text>
<text x="1196.5" y="1719.7" font-size="28.8" textLength="10.7" lengthAdjust="spacingAndGlyphs">^</text>
<text x="1209" y="1707.4" font-size="17.0">2</text>
<text x="1209.3" y="1733.6" font-size="17.0">e</text>
</g>
<text x="-0.8" y="34.7" font-family="'DejaVu Sans', 'Liberation Sans', sans-serif" font-size="44.4" textLength="182.4" lengthAdjust="spacingAndGlyphs" style="stroke-width:0.8px">Pumpkin</text>
<text x="-0.8" y="726.4" font-family="'DejaVu Sans', 'Liberation Sans', sans-serif" font-size="44.4" textLength="125.2" lengthAdjust="spacingAndGlyphs" style="stroke-width:0.8px">Maize</text>
<text x="-1.0" y="1417.7" font-family="'DejaVu Sans', 'Liberation Sans', sans-serif" font-size="44.4" textLength="138.7" lengthAdjust="spacingAndGlyphs" style="stroke-width:0.8px">Wheat</text>
</svg>
</body>
</html>
